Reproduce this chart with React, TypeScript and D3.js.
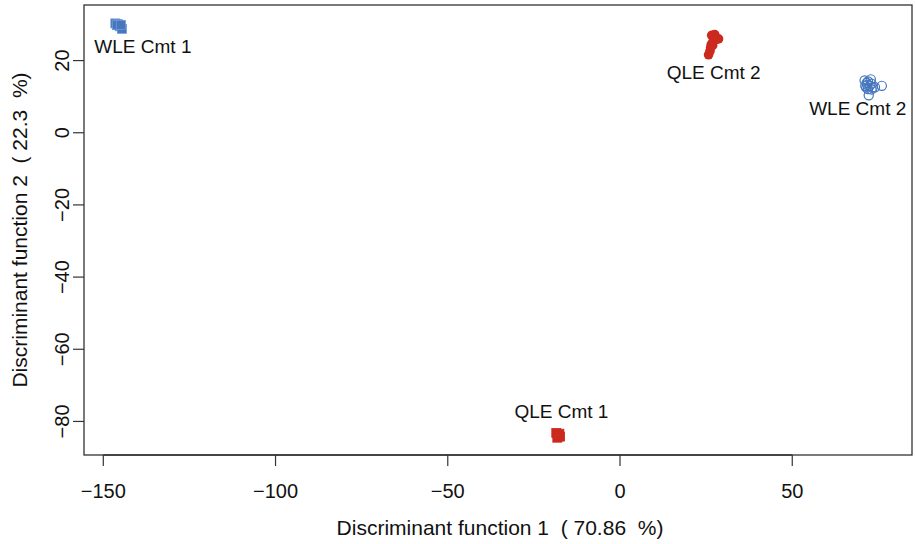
import React from "react";
import * as d3 from "d3";

const xTicks = [-150, -100, -50, 0, 50];
const yTicks = [20, 0, -20, -40, -60, -80];
const xTitle = "Discriminant function 1  ( 70.86  %)";
const yTitle = "Discriminant function 2  ( 22.3  %)";

const groups = ["WLE Cmt 1", "WLE Cmt 2", "QLE Cmt 1", "QLE Cmt 2"];
const groupColor = ["#4576BE", "#4576BE", "#CC2A1E", "#CC2A1E"];
const groupShape = ["square", "openCircle", "square", "circle"];

const wleCmt1 = [
  [-146.5, 30.3], [-145.8, 30.1], [-145.2, 29.5], [-144.6, 28.8], [-146.0, 29.8], [-144.9, 29.9],
];
const wleCmt2 = [
  [71.0, 14.5], [72.0, 14.2], [72.5, 13.0], [71.5, 12.5], [73.0, 13.6], [71.2, 13.0],
  [72.0, 12.1], [73.3, 12.5], [74.0, 12.6], [76.0, 13.0], [72.2, 10.4], [71.6, 13.8],
  [72.8, 14.8], [73.0, 12.0], [71.8, 13.3],
];
const qleCmt1 = [
  [-18.5, -83.2], [-17.6, -83.4], [-18.2, -84.5], [-17.4, -84.2], [-18.0, -83.9],
];
const qleCmt2 = [
  [26.6, 27.0], [27.5, 27.2], [28.6, 26.0], [27.8, 25.8], [27.0, 25.2], [26.5, 24.5],
  [26.3, 23.6], [26.1, 22.6], [25.7, 21.6], [27.2, 26.4], [26.9, 24.2], [27.4, 26.9],
];
const groupPoints = [wleCmt1, wleCmt2, qleCmt1, qleCmt2];
const labelX = [-138.5, 69.0, -17.0, 27.2];
const labelY = [23.8, 6.6, -77.2, 16.6];

export default function App() {
  const W = 916, H = 544;
  const left = 84, right = 912, top = 5, bottom = 455;
  const x = d3.scaleLinear().domain([-155.6, 84.76]).range([left, right]);
  const y = d3.scaleLinear().domain([-89.3, 35.4]).range([bottom, top]);
  const font = "Liberation Sans, Arial, sans-serif";
  const axisCol = "#333";
  const fs = 20;

  return (
    <svg width={W} height={H} style={{ position: "absolute", left: 0, top: 0 }} fontFamily={font}>
      <rect x={0} y={0} width={W} height={H} fill="#fff" />
      <rect x={left} y={top} width={right - left} height={bottom - top} fill="none" stroke={axisCol} strokeWidth={1.3} />
      {/* x axis */}
      <line x1={x(xTicks[0])} x2={x(xTicks[xTicks.length - 1])} y1={bottom} y2={bottom} stroke={axisCol} strokeWidth={1.3} />
      {xTicks.map((t) => (
        <g key={"xt" + t}>
          <line x1={x(t)} x2={x(t)} y1={bottom} y2={bottom + 11} stroke={axisCol} strokeWidth={1.2} />
          <text x={x(t)} y={498} textAnchor="middle" fontSize={fs} fill="#111">
            {t < 0 ? "\u2212" + Math.abs(t) : String(t)}
          </text>
        </g>
      ))}
      {/* y axis */}
      {yTicks.map((t) => (
        <g key={"yt" + t}>
          <line x1={left} x2={left - 11} y1={y(t)} y2={y(t)} stroke={axisCol} strokeWidth={1.2} />
          <text transform={`translate(69,${y(t)}) rotate(-90)`} textAnchor="middle" fontSize={fs} fill="#111">
            {t < 0 ? "\u2212" + Math.abs(t) : String(t)}
          </text>
        </g>
      ))}
      <text x={(left + right) / 2 + 2} y={535} textAnchor="middle" fontSize={21} fill="#111" style={{ whiteSpace: "pre" }}>{xTitle}</text>
      <text transform={`translate(27,${(top + bottom) / 2}) rotate(-90)`} textAnchor="middle" fontSize={21} fill="#111" style={{ whiteSpace: "pre" }}>{yTitle}</text>

      {/* points */}
      {groups.map((g, gi) => (
        <g key={g}>
          {groupPoints[gi].map((p, i) => {
            const cx = x(p[0]), cy = y(p[1]);
            const col = groupColor[gi];
            const shape = groupShape[gi];
            if (shape === "square") {
              return <rect key={i} x={cx - 4.5} y={cy - 4.5} width={9} height={9} fill={col} stroke={gi === 0 ? "#6E98D2" : col} strokeWidth={0.8} />;
            }
            if (shape === "openCircle") {
              return <circle key={i} cx={cx} cy={cy} r={4.6} fill="none" stroke={col} strokeWidth={1.2} />;
            }
            return <circle key={i} cx={cx} cy={cy} r={4.8} fill={col} />;
          })}
          <text x={x(labelX[gi])} y={y(labelY[gi]) + 6.5} textAnchor="middle" fontSize={19} fill="#111">{g}</text>
        </g>
      ))}
    </svg>
  );
}
